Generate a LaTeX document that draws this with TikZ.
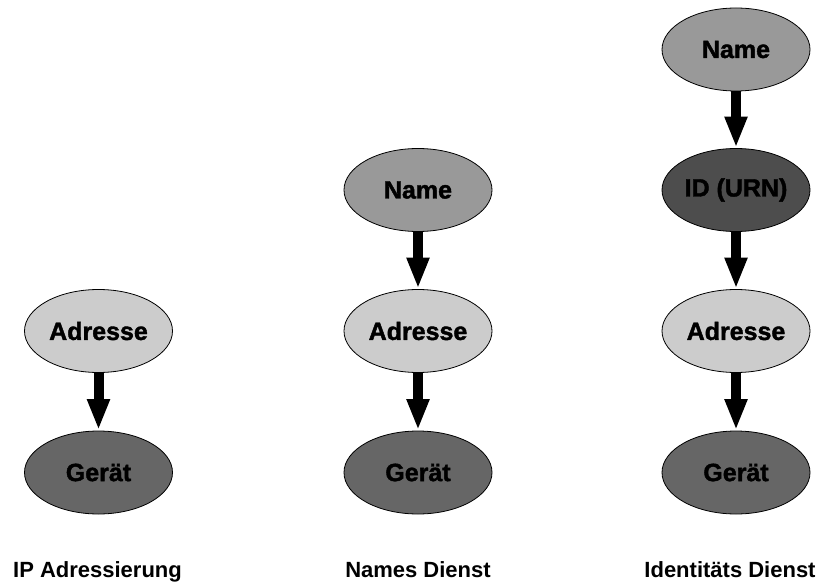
\documentclass[tikz,border=0pt]{standalone}
\usepackage{fontspec}
\setmainfont{Liberation Sans}
\newfontfamily\heavyfont[FakeBold=1.6]{Liberation Sans Bold}
\usetikzlibrary{arrows.meta,shapes.geometric}
\definecolor{adrfill}{HTML}{CCCCCC}
\definecolor{namefill}{HTML}{999999}
\definecolor{devfill}{HTML}{666666}
\definecolor{idfill}{HTML}{4D4D4D}
\tikzset{
  blob/.style={ellipse, draw=black, line width=0.8pt, minimum width=148pt,
    minimum height=83pt, inner sep=0pt,
    font=\fontsize{25}{28}\heavyfont},
  adr/.style={blob, fill=adrfill},
  nam/.style={blob, fill=namefill},
  dev/.style={blob, fill=devfill},
  urn/.style={blob, fill=idfill},
  flow/.style={line width=10pt, -{Triangle[width=21pt,length=31pt]}, shorten >=0.5pt},
  caption/.style={anchor=base, inner sep=0pt, font=\fontsize{22}{25}\selectfont\bfseries}
}
\begin{document}
\begin{tikzpicture}[x=1pt,y=-1pt]
\useasboundingbox (0,0) rectangle (826,585);
% IP addressing
\node[adr] (a1) at (98.5,331) {Adresse};
\node[dev] (g1) at (98.5,472.5) {Gerät};
\draw[flow] (a1.south) -- (g1.north);
% name service
\node[nam] (n2) at (418,190) {Name};
\node[adr] (a2) at (418,331) {Adresse};
\node[dev] (g2) at (418,472.5) {Gerät};
\draw[flow] (n2.south) -- (a2.north);
\draw[flow] (a2.south) -- (g2.north);
% identity service
\node[nam] (n3) at (736,49.5) {Name};
\node[urn] (i3) at (736,190) {ID (URN)};
\node[adr] (a3) at (736,331) {Adresse};
\node[dev] (g3) at (736,472.5) {Gerät};
\draw[flow] (n3.south) -- (i3.north);
\draw[flow] (i3.south) -- (a3.north);
\draw[flow] (a3.south) -- (g3.north);
% captions
\node[caption] (c1) at (97.5,577) {IP Adressierung};
\node[caption] (c2) at (418,577) {Names Dienst};
\node[caption] (c3) at (730,577) {Identitäts Dienst};
\end{tikzpicture}
\end{document}
